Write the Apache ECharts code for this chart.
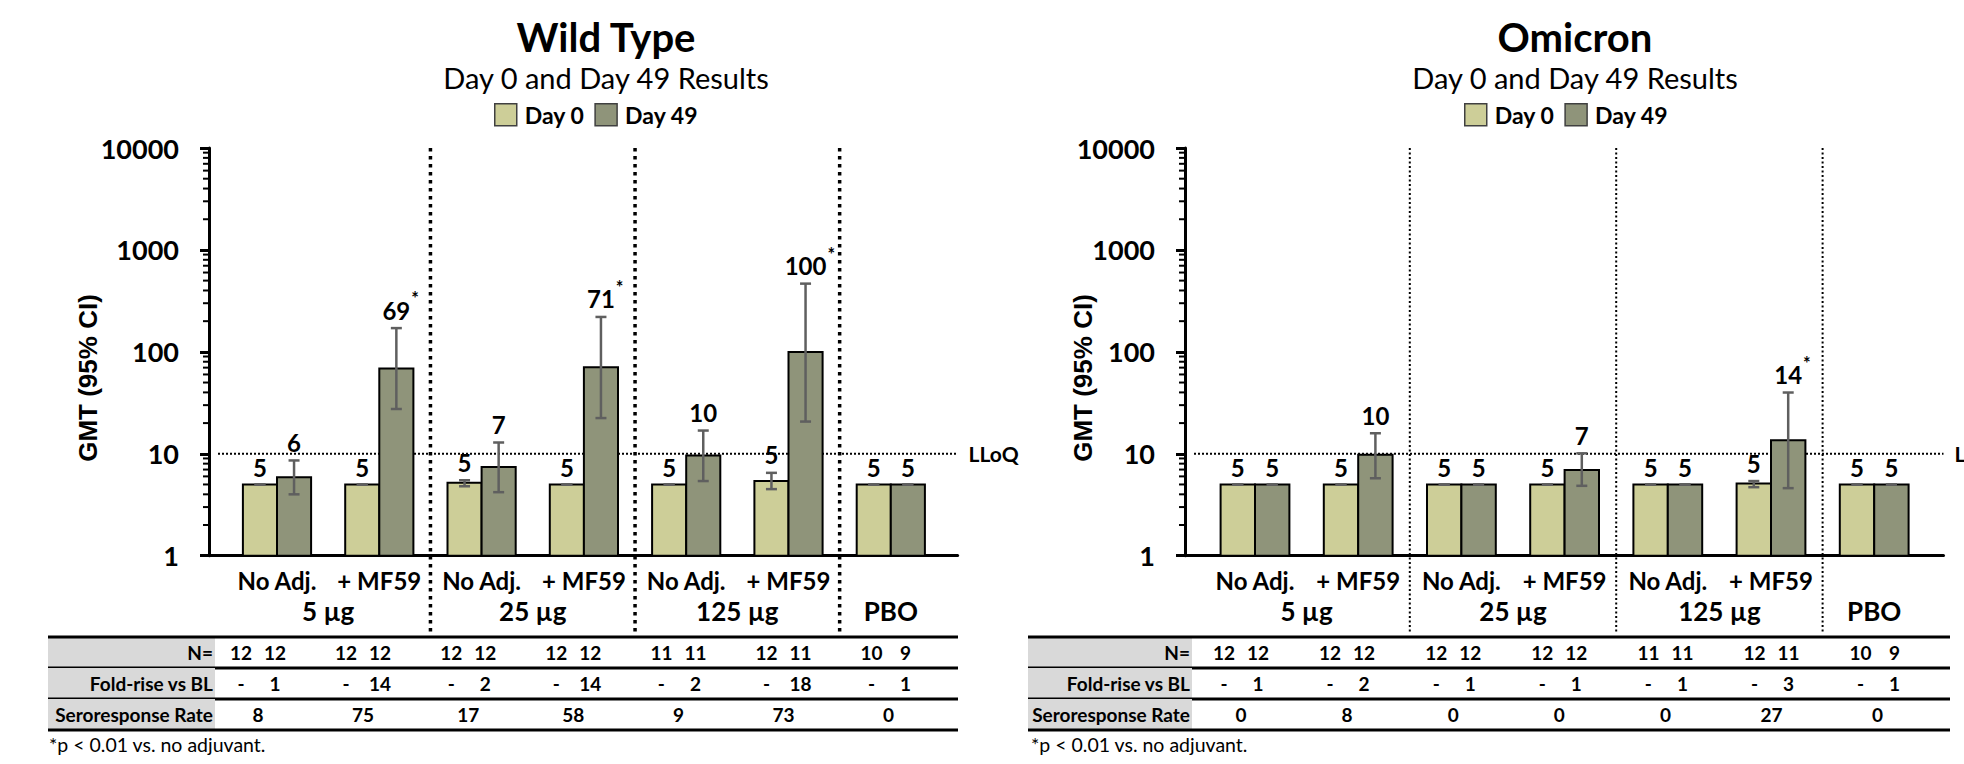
<!DOCTYPE html>
<html><head><meta charset="utf-8">
<script src="https://cdn.jsdelivr.net/npm/echarts@6/dist/echarts.min.js"></script>
<style>html,body{margin:0;padding:0;background:#fff}#c{width:1964px;height:764px}</style>
</head><body><div id="c"></div>
<script>
// ---------------- DATA ----------------
const groups = ['No Adj.', '+ MF59', 'No Adj.', '+ MF59', 'No Adj.', '+ MF59', ''];
const doses = ['5 µg', '25 µg', '125 µg', 'PBO'];
const doseSpan = [[0, 1], [2, 3], [4, 5], [6, 6]];
const yTicks = [1, 10, 100, 1000, 10000];
const lloq = 10;
const rowLabels = ['N=', 'Fold-rise vs BL', 'Seroresponse Rate'];
const legendNames = ['Day 0', 'Day 49'];

// Wild Type
const wtDay0 = [5.0, 5.0, 5.2, 5.0, 5.0, 5.4, 5.0];
const wtDay0Lo = [5, 5, 4.8, 5, 5, 4.5, 5];
const wtDay0Hi = [5, 5, 5.5, 5, 5, 6.5, 5];
const wtDay49 = [5.9, 68.6, 7.4, 70.8, 9.6, 99.6, 5.0];
const wtDay49Lo = [4.0, 27.5, 4.2, 22.4, 5.4, 20.7, 5];
const wtDay49Hi = [8.6, 171, 12.9, 220, 16.9, 467, 5];
const wtSig49 = [0, 1, 0, 1, 0, 1, 0];
const wtN0 = [12, 12, 12, 12, 11, 12, 10];
const wtN49 = [12, 12, 12, 12, 11, 11, 9];
const wtFold = [1, 14, 2, 14, 2, 18, 1];
const wtSero = [8, 75, 17, 58, 9, 73, 0];

// Omicron
const omDay0 = [5, 5, 5, 5, 5, 5.1, 5];
const omDay0Lo = [5, 5, 5, 5, 5, 4.7, 5];
const omDay0Hi = [5, 5, 5, 5, 5, 5.4, 5];
const omDay49 = [5, 9.8, 5, 6.95, 5, 13.6, 5];
const omDay49Lo = [5, 5.75, 5, 4.85, 5, 4.6, 5];
const omDay49Hi = [5, 15.9, 5, 10.1, 5, 39.9, 5];
const omSig49 = [0, 0, 0, 0, 0, 1, 0];
const omN0 = [12, 12, 12, 12, 11, 12, 10];
const omN49 = [12, 12, 12, 12, 11, 11, 9];
const omFold = [1, 2, 1, 1, 1, 3, 1];
const omSero = [0, 8, 0, 0, 0, 27, 0];

// ---------------- LAYOUT / STYLE ----------------
const FONT = 'Lato, "Open Sans", sans-serif';
const C0 = '#CDCE98', C49 = '#8F947A';
const TOP = 148, BOTTOM = 555.7, TAB_TOP = 637, TAB_H = 93;
const BAR_FRAC = 1 / 3;
const layouts = [
  { gridL: 209, gridR: 957.6, c0: 277, step: 102.3, titleX: 606, legendX: 494, yTitleX: 88,
    tabL: 48, tabR: 958, tabC0: 258, tabStep: 105.1, tabLabelEnd: 215, footX: 49,
    sepW: 3.5, sepDash: [3.5, 4.5] },
  { gridL: 1185, gridR: 1943.5, c0: 1255, step: 103.2, titleX: 1575, legendX: 1464, yTitleX: 1083,
    tabL: 1028, tabR: 1950, tabC0: 1241, tabStep: 106.1, tabLabelEnd: 1192, footX: 1031,
    sepW: 2, sepDash: [2, 2.5] }
];
const panels = [
  { title: 'Wild Type', d0: wtDay0, d0lo: wtDay0Lo, d0hi: wtDay0Hi, d49: wtDay49, d49lo: wtDay49Lo, d49hi: wtDay49Hi,
    sig: wtSig49, n0: wtN0, n49: wtN49, fold: wtFold, sero: wtSero, L: layouts[0] },
  { title: 'Omicron', d0: omDay0, d0lo: omDay0Lo, d0hi: omDay0Hi, d49: omDay49, d49lo: omDay49Lo, d49hi: omDay49Hi,
    sig: omSig49, n0: omN0, n49: omN49, fold: omFold, sero: omSero, L: layouts[1] }
];

const mctx = document.createElement('canvas').getContext('2d');
function textW(t, font) { mctx.font = font; return mctx.measureText(t).width; }

const grids = [], xAxes = [], yAxes = [], series = [], graphics = [];
const LABEL_FONT = 'bold 24px ' + FONT;
const TABLE_FONT = 'bold 19px ' + FONT;

panels.forEach((P, k) => {
  const L = P.L, gi = 2 * k, ti = 2 * k + 1;
  const xmin = (L.gridL - L.c0) / L.step, xmax = (L.gridR - L.c0) / L.step;
  grids.push({ left: L.gridL, top: TOP, width: L.gridR - L.gridL, height: BOTTOM - TOP });
  grids.push({ left: L.tabL, top: TAB_TOP, width: L.tabR - L.tabL, height: TAB_H });
  xAxes.push({ gridIndex: gi, type: 'value', min: xmin, max: xmax,
    axisLine: { show: true, onZero: false, lineStyle: { color: '#000', width: 3 } },
    axisTick: { show: false }, axisLabel: { show: false }, splitLine: { show: false } });
  xAxes.push({ gridIndex: ti, type: 'value', show: false,
    min: (L.tabL - L.tabC0) / L.tabStep, max: (L.tabR - L.tabC0) / L.tabStep });
  yAxes.push({ gridIndex: gi, type: 'log', logBase: 10, min: yTicks[0], max: yTicks[yTicks.length - 1],
    axisLine: { show: true, onZero: false, lineStyle: { color: '#000', width: 3 } },
    axisTick: { show: true, length: 9, lineStyle: { color: '#000', width: 3 } },
    axisLabel: { color: '#000', fontFamily: FONT, fontWeight: 'bold', fontSize: 27, margin: 30,
      formatter: v => String(Math.round(v)) },
    splitLine: { show: false } });
  yAxes.push({ gridIndex: ti, type: 'value', show: false, min: 0, max: 3, inverse: true });

  // minor ticks
  const minor = [];
  for (let d = 0; d < yTicks.length - 1; d++) for (let m = 2; m <= 9; m++) minor.push([xmin, yTicks[d] * m]);
  series.push({ type: 'custom', xAxisIndex: gi, yAxisIndex: gi, silent: true, data: minor, encode: { x: 0, y: 1 },
    renderItem: (params, api) => {
      const p = api.coord([api.value(0), api.value(1)]);
      return { type: 'line', shape: { x1: p[0] - 6, y1: p[1], x2: p[0], y2: p[1] },
        style: { stroke: '#000', lineWidth: 2 } };
    } });

  // LLoQ line
  series.push({ type: 'custom', xAxisIndex: gi, yAxisIndex: gi, silent: true, data: [[xmin, lloq]], encode: { x: 0, y: 1 },
    renderItem: (params, api) => {
      const p = api.coord([api.value(0), api.value(1)]);
      const cs = params.coordSys;
      return { type: 'group', children: [
        { type: 'line', shape: { x1: cs.x + 9, y1: p[1], x2: cs.x + cs.width, y2: p[1] },
          style: { stroke: '#000', lineWidth: 2, lineDash: [2, 2] } },
        { type: 'text', style: { text: 'LLoQ', x: cs.x + cs.width + 11, y: p[1], align: 'left', verticalAlign: 'middle',
          font: 'bold 21px ' + FONT, fill: '#000' } }
      ] };
    } });

  // dose separators
  const seps = doseSpan.slice(0, -1).map(s => [s[1] + 0.5, yTicks[yTicks.length - 1]]);
  series.push({ type: 'custom', xAxisIndex: gi, yAxisIndex: gi, silent: true, data: seps, encode: { x: 0, y: 1 },
    renderItem: (params, api) => {
      const p = api.coord([api.value(0), api.value(1)]);
      const b = api.coord([api.value(0), yTicks[0]]);
      return { type: 'line', shape: { x1: p[0], y1: p[1], x2: p[0], y2: b[1] + 76 },
        style: { stroke: '#000', lineWidth: L.sepW, lineDash: L.sepDash } };
    } });

  // bars
  const mk = (name, day, vals, lo, hi, sig, color) => ({
    type: 'custom', name, xAxisIndex: gi, yAxisIndex: gi, itemStyle: { color },
    data: vals.map((v, i) => [i, v, lo[i], hi[i], sig ? sig[i] : 0]), encode: { x: 0, y: 1 },
    renderItem: (params, api) => {
      const i = api.value(0), v = api.value(1), l = api.value(2), h = api.value(3), s = api.value(4);
      const top = api.coord([i, v]), base = api.coord([i, yTicks[0]]);
      const w = (api.coord([i + 1, v])[0] - top[0]) * BAR_FRAC;
      const x0 = day === 0 ? top[0] - w : top[0];
      const xc = x0 + w / 2;
      const ph = api.coord([i, h])[1], pl = api.coord([i, l])[1];
      const ch = [
        { type: 'rect', shape: { x: x0, y: top[1], width: w, height: base[1] - top[1] },
          style: { fill: color, stroke: '#000', lineWidth: 2 } },
        { type: 'line', shape: { x1: xc, y1: ph, x2: xc, y2: pl }, style: { stroke: '#5F5F5F', lineWidth: 2.5 } },
        { type: 'line', shape: { x1: xc - 5.5, y1: ph, x2: xc + 5.5, y2: ph }, style: { stroke: '#5F5F5F', lineWidth: 2.5 } },
        { type: 'line', shape: { x1: xc - 5.5, y1: pl, x2: xc + 5.5, y2: pl }, style: { stroke: '#5F5F5F', lineWidth: 2.5 } }
      ];
      const txt = String(Math.round(v));
      const yb = Math.min(top[1], ph) - (h > v + 1e-9 ? 6 : 5);
      ch.push({ type: 'text', style: { text: txt, x: xc, y: yb, align: 'center', verticalAlign: 'bottom',
        font: LABEL_FONT, fill: '#000' } });
      if (s) {
        const tw = textW(txt, LABEL_FONT);
        ch.push({ type: 'text', style: { text: '*', x: xc + tw / 2 + 1, y: yb - 15, align: 'left', verticalAlign: 'bottom',
          font: 'bold 18px ' + FONT, fill: '#000' } });
      }
      return { type: 'group', children: ch };
    } });
  series.push(mk(legendNames[0], 0, P.d0, P.d0lo, P.d0hi, null, C0));
  series.push(mk(legendNames[1], 1, P.d49, P.d49lo, P.d49hi, P.sig, C49));

  // category labels
  series.push({ type: 'custom', xAxisIndex: gi, yAxisIndex: gi, silent: true,
    data: groups.map((g, i) => [i, yTicks[0]]), encode: { x: 0, y: 1 },
    renderItem: (params, api) => {
      const p = api.coord([api.value(0), api.value(1)]);
      return { type: 'text', style: { text: groups[params.dataIndex], x: p[0], y: p[1] + 25, align: 'center',
        verticalAlign: 'middle', font: 'bold 24px ' + FONT, fill: '#000' } };
    } });
  series.push({ type: 'custom', xAxisIndex: gi, yAxisIndex: gi, silent: true,
    data: doseSpan.map(s => [(s[0] + s[1]) / 2, yTicks[0]]), encode: { x: 0, y: 1 },
    renderItem: (params, api) => {
      const p = api.coord([api.value(0), api.value(1)]);
      return { type: 'text', style: { text: doses[params.dataIndex], x: p[0], y: p[1] + 55, align: 'center',
        verticalAlign: 'middle', font: 'bold 26px ' + FONT, fill: '#000' } };
    } });

  // table frame
  series.push({ type: 'custom', xAxisIndex: ti, yAxisIndex: ti, silent: true,
    data: rowLabels.map((r, i) => [0, i]), encode: { x: 0, y: 1 },
    renderItem: (params, api) => {
      const r = api.value(1), cs = params.coordSys;
      const y0 = api.coord([0, r])[1], y1 = api.coord([0, r + 1])[1];
      const ch = [
        { type: 'rect', shape: { x: cs.x, y: y0, width: L.tabLabelEnd - cs.x, height: y1 - y0 }, style: { fill: '#D9D9D9' } },
        { type: 'text', style: { text: rowLabels[params.dataIndex], x: L.tabLabelEnd - 2, y: (y0 + y1) / 2, align: 'right',
          verticalAlign: 'middle', font: TABLE_FONT, fill: '#000' } },
        { type: 'line', shape: { x1: cs.x, y1: y1, x2: cs.x + cs.width, y2: y1 }, style: { stroke: '#000', lineWidth: 3 } }
      ];
      if (r === 0) ch.push({ type: 'line', shape: { x1: cs.x, y1: y0, x2: cs.x + cs.width, y2: y0 }, style: { stroke: '#000', lineWidth: 3 } });
      return { type: 'group', children: ch };
    } });

  // table cells
  const cells = [];
  for (let i = 0; i < groups.length; i++) {
    cells.push({ c: i, r: 0, t: String(P.n0[i]), s: -1 });
    cells.push({ c: i, r: 0, t: String(P.n49[i]), s: 1 });
    cells.push({ c: i, r: 1, t: '-', s: -1 });
    cells.push({ c: i, r: 1, t: String(P.fold[i]), s: 1 });
    cells.push({ c: i, r: 2, t: String(P.sero[i]), s: 0 });
  }
  series.push({ type: 'custom', xAxisIndex: ti, yAxisIndex: ti, silent: true,
    data: cells.map(c => [c.c, c.r + 0.5]), encode: { x: 0, y: 1 },
    renderItem: (params, api) => {
      const c = cells[params.dataIndex];
      const p = api.coord([api.value(0), api.value(1)]);
      return { type: 'text', style: { text: c.t, x: p[0] + c.s * 17, y: p[1], align: 'center', verticalAlign: 'middle',
        font: TABLE_FONT, fill: '#000' } };
    } });

  // titles etc.
  graphics.push({ type: 'text', x: L.titleX, y: 37, style: { text: P.title, align: 'center', verticalAlign: 'middle',
    font: 'bold 40px ' + FONT, fill: '#000' } });
  graphics.push({ type: 'text', x: L.titleX, y: 77, style: { text: 'Day 0 and Day 49 Results', align: 'center', verticalAlign: 'middle',
    font: '29px ' + FONT, fill: '#000' } });
  graphics.push({ type: 'text', x: L.yTitleX, y: 378, rotation: Math.PI / 2, style: { text: 'GMT (95% CI)', align: 'center',
    verticalAlign: 'middle', font: 'bold 26px "Liberation Sans", Arial, sans-serif', fill: '#000' } });
  graphics.push({ type: 'text', x: L.footX, y: 744, style: { text: '*p < 0.01 vs. no adjuvant.', align: 'left', verticalAlign: 'middle',
    font: '19.5px ' + FONT, fill: '#000' } });
});

const chart = echarts.init(document.getElementById('c'), null, { renderer: 'svg', width: 1964, height: 764 });
chart.setOption({
  animation: false,
  backgroundColor: '#fff',
  grid: grids, xAxis: xAxes, yAxis: yAxes, series,
  legend: layouts.map(L => ({ left: L.legendX, top: 103, padding: 0, itemWidth: 22, itemHeight: 22, itemGap: 10, icon: 'rect',
    data: legendNames, selectedMode: false,
    textStyle: { fontFamily: FONT, fontWeight: 'bold', fontSize: 23, color: '#000', padding: [0, 0, 0, 3] },
    itemStyle: { borderColor: '#404040', borderWidth: 1.5 } })),
  graphic: graphics
});
</script></body></html>
